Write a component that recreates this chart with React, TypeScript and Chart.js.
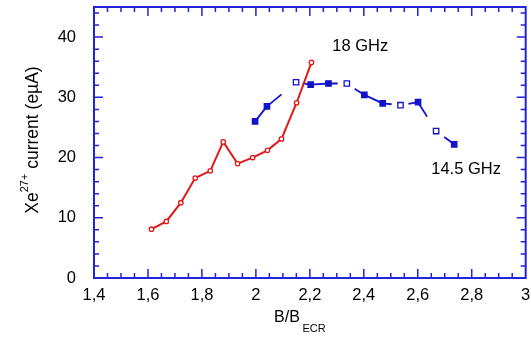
import { useEffect, useRef } from 'react';
import { Chart, registerables } from 'chart.js';

Chart.register(...registerables);

// 18 GHz series (red, circles)
const redX = [1.613, 1.668, 1.722, 1.775, 1.831, 1.879, 1.932, 1.988, 2.043, 2.095, 2.151, 2.206];
const redY = [8.1, 9.4, 12.5, 16.6, 17.8, 22.6, 19.0, 20.0, 21.2, 23.1, 29.1, 35.8];

// 14.5 GHz series (blue, squares)
const blueX = [1.997, 2.041, 2.149, 2.203, 2.269, 2.337, 2.402, 2.470, 2.536, 2.601, 2.668, 2.735];
const blueY = [26.0, 28.5, 32.5, 32.1, 32.3, 32.3, 30.4, 29.0, 28.7, 29.2, 24.4, 22.2];
const blueHollow = [2, 5, 8, 10];

const xTicks = [1.4, 1.6, 1.8, 2.0, 2.2, 2.4, 2.6, 2.8, 3.0];
const yTicks = [0, 10, 20, 30, 40];

const xTitleMain = 'B/B';
const xTitleSub = 'ECR';
const yTitlePre = 'Xe';
const yTitleSup = '27+';
const yTitlePost = ' current (eµA)';

const noteTexts = ['18 GHz', '14.5 GHz'];
const noteX = [2.283, 2.65];
const noteY = [38.4, 18.1];

const FONT = "'Liberation Sans', Arial, sans-serif";
const AXIS = '#2323dd';
const RED = '#e01818';
const BLUE = '#1212cc';

function fmt(v: number) {
  const r = Math.round(v * 10) / 10;
  return Number.isInteger(r) ? String(r) : r.toFixed(1).replace('.', ',');
}

function zeroPad(s: any) {
  s.paddingTop = 0;
  s.paddingBottom = 0;
  s.paddingLeft = 0;
  s.paddingRight = 0;
}

export default function App() {
  const ref = useRef<HTMLCanvasElement>(null);
  useEffect(() => {
    document.body.style.margin = '0';
    const canvas = ref.current!;
    const framePlugin = {
      id: 'frame',
      afterDraw(chart: any) {
        const { ctx, chartArea: a, scales } = chart;
        const xs = scales.x;
        const ys = scales.y;
        ctx.save();
        ctx.strokeStyle = AXIS;
        ctx.lineWidth = 1.5;
        ctx.beginPath();
        for (let i = 1; i < 32; i++) {
          const v = 1.4 + i * 0.05;
          const px = xs.getPixelForValue(v);
          const len = i % 4 === 0 ? 9 : 5;
          ctx.moveTo(px, a.bottom);
          ctx.lineTo(px, a.bottom - len);
          ctx.moveTo(px, a.top);
          ctx.lineTo(px, a.top + len);
        }
        for (let v = 2; v < 45; v += 2) {
          const py = ys.getPixelForValue(v);
          const len = v % 10 === 0 ? 9 : 5;
          ctx.moveTo(a.left, py);
          ctx.lineTo(a.left + len, py);
          ctx.moveTo(a.right, py);
          ctx.lineTo(a.right - len, py);
        }
        ctx.stroke();
        ctx.lineWidth = 2;
        ctx.strokeRect(a.left, a.top, a.right - a.left, a.bottom - a.top);

        // notes
        ctx.fillStyle = '#000';
        ctx.font = `16.5px ${FONT}`;
        ctx.textBaseline = 'middle';
        ctx.textAlign = 'left';
        noteTexts.forEach((t, i) => {
          ctx.fillText(t, xs.getPixelForValue(noteX[i]), ys.getPixelForValue(noteY[i]));
        });

        // x title
        ctx.font = `16px ${FONT}`;
        const w1 = ctx.measureText(xTitleMain).width;
        ctx.font = `11px ${FONT}`;
        const w2 = ctx.measureText(xTitleSub).width;
        const gap = 2.5;
        const cx = (a.left + a.right) / 2 - 10;
        const sx = cx - (w1 + gap + w2) / 2;
        ctx.font = `16px ${FONT}`;
        ctx.fillText(xTitleMain, sx, 317.5);
        ctx.font = `11px ${FONT}`;
        ctx.fillText(xTitleSub, sx + w1 + gap, 329);

        // y title
        ctx.translate(33, 140);
        ctx.rotate(-Math.PI / 2);
        ctx.font = `17.5px ${FONT}`;
        const a1 = ctx.measureText(yTitlePre).width;
        const a3 = ctx.measureText(yTitlePost).width;
        ctx.font = `11px ${FONT}`;
        const a2 = ctx.measureText(yTitleSup).width;
        let st = -(a1 + a2 + a3) / 2;
        ctx.font = `17.5px ${FONT}`;
        ctx.fillText(yTitlePre, st, 0);
        st += a1;
        ctx.font = `11px ${FONT}`;
        ctx.fillText(yTitleSup, st, -8);
        st += a2;
        ctx.font = `17.5px ${FONT}`;
        ctx.fillText(yTitlePost, st, 0);
        ctx.restore();
      },
    };

    const chart = new Chart(canvas, {
      type: 'line',
      data: {
        datasets: [
          {
            label: '18 GHz',
            data: redX.map((x, i) => ({ x, y: redY[i] })),
            borderColor: RED,
            borderWidth: 2,
            pointStyle: 'circle',
            pointRadius: 2.2,
            pointBorderWidth: 1.3,
            pointBackgroundColor: '#fff',
            pointBorderColor: RED,
            tension: 0,
            fill: false,
          },
          {
            label: '14.5 GHz',
            data: blueX.map((x, i) => ({ x, y: blueY[i] })),
            borderColor: BLUE,
            borderWidth: 1.8,
            pointStyle: 'rect',
            pointRadius: 3.8,
            pointBorderWidth: 1.3,
            pointBackgroundColor: (c: any) => (blueHollow.includes(c.dataIndex) ? '#fff' : BLUE),
            pointBorderColor: BLUE,
            tension: 0,
            fill: false,
            segment: {
              borderDash: (c: any) => {
                const L = Math.hypot(c.p1.x - c.p0.x, c.p1.y - c.p0.y);
                if (blueHollow.includes(c.p1DataIndex)) return [L * 0.5, L * 2];
                if (blueHollow.includes(c.p0DataIndex)) return [0, L * 0.45, L * 0.6, L * 2];
                return undefined;
              },
            },
          },
        ],
      },
      options: {
        responsive: false,
        animation: false,
        events: [],
        layout: { padding: { top: 7, right: 5, left: 0, bottom: 0 } },
        plugins: { legend: { display: false }, tooltip: { enabled: false } },
        scales: {
          x: {
            type: 'linear',
            min: 1.4,
            max: 3.0,
            grid: { display: false, drawTicks: false },
            border: { display: false },
            afterBuildTicks: (s: any) => {
              s.ticks = xTicks.map((v) => ({ value: v }));
            },
            afterFit: (s: any) => {
              s.height = 59;
              zeroPad(s);
            },
            ticks: {
              padding: 8,
              color: '#000',
              font: { family: FONT, size: 16.5 },
              maxRotation: 0,
              autoSkip: false,
              callback: (v: any) => fmt(Number(v)),
            },
          },
          y: {
            type: 'linear',
            min: 0,
            max: 45,
            grid: { display: false, drawTicks: false },
            border: { display: false },
            afterBuildTicks: (s: any) => {
              s.ticks = yTicks.map((v) => ({ value: v }));
            },
            afterFit: (s: any) => {
              s.width = 94;
              zeroPad(s);
            },
            ticks: {
              padding: 18,
              color: '#000',
              font: { family: FONT, size: 16.5 },
              callback: (v: any) => String(v),
            },
          },
        },
      },
      plugins: [framePlugin],
    } as any);
    return () => chart.destroy();
  }, []);
  return (
    <div style={{ width: 531, height: 337 }}>
      <canvas ref={ref} width={531} height={337} style={{ display: 'block' }} />
    </div>
  );
}
